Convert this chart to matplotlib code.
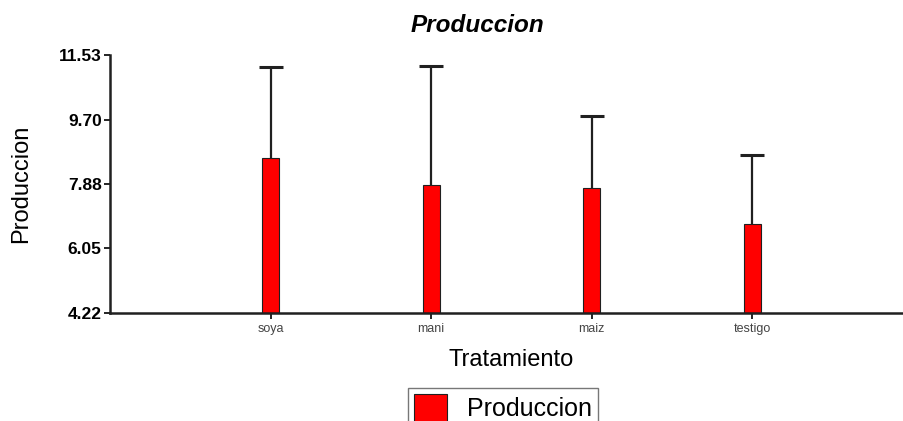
import matplotlib
matplotlib.use("Agg")
import matplotlib.pyplot as plt
from matplotlib.patches import Patch

plt.rcParams['font.family'] = ['Liberation Sans', 'DejaVu Sans']

categories = ["soya", "mani", "maiz", "testigo"]
means = [8.60, 7.85, 7.75, 6.74]
upper = [11.18, 11.22, 9.81, 8.70]
yticks = [4.22, 6.05, 7.88, 9.70, 11.53]

W, H = 904, 421
fig = plt.figure(figsize=(W / 100, H / 100), dpi=100)
ax = fig.add_axes([110 / W, 1 - 313 / H, 803 / W, 258 / H])

x = list(range(len(categories)))
err_up = [u - m for u, m in zip(upper, means)]
err_lo = [0] * len(means)
ax.bar(x, [m - yticks[0] for m in means], bottom=yticks[0], width=0.105,
       color="#ff0000", edgecolor="#202020", linewidth=0.8, zorder=2)
eb = ax.errorbar(x, means, yerr=[err_lo, err_up], fmt="none", ecolor="#202020",
                 elinewidth=1.6, capsize=8.5, capthick=2.2, zorder=1)
# only the upper whisker carries a cap
eb[1][0].set_visible(False)

ax.set_xlim(-1, 4)
ax.set_ylim(yticks[0], yticks[-1])
ax.set_yticks(yticks)
ax.set_yticklabels([f"{v:.2f}" for v in yticks], fontsize=12.5, fontweight="bold")
ax.set_xticks(x)
ax.set_xticklabels(categories, fontsize=9, color="#444444")
ax.tick_params(axis="y", length=4, width=1.2, pad=2)
ax.tick_params(axis="x", length=4, width=1.2, pad=3)

for s in ("top", "right"):
    ax.spines[s].set_visible(False)
for s in ("left", "bottom"):
    ax.spines[s].set_linewidth(1.8)
    ax.spines[s].set_color("#202020")

ax.set_ylabel("Produccion", fontsize=17)
ax.yaxis.set_label_coords(-(110 - 32) / 803, 0.5)
ax.set_xlabel("Tratamiento", fontsize=17, labelpad=10)

fig.text(477 / W, 1 - 25 / H, "Produccion", ha="center", va="center",
         fontsize=17.5, fontweight="bold", fontstyle="italic")

handle = Patch(facecolor="#ff0000", edgecolor="#202020", linewidth=0.8)
fig.legend([handle], ["Produccion"], loc="upper center",
           bbox_to_anchor=(503 / W, 1 - 388 / H), fontsize=18,
           frameon=True, fancybox=False, edgecolor="#555555",
           handlelength=1.3, handleheight=1.3, borderpad=0.25,
           handletextpad=0.8, borderaxespad=0)

fig.savefig("out.png", dpi=100)
